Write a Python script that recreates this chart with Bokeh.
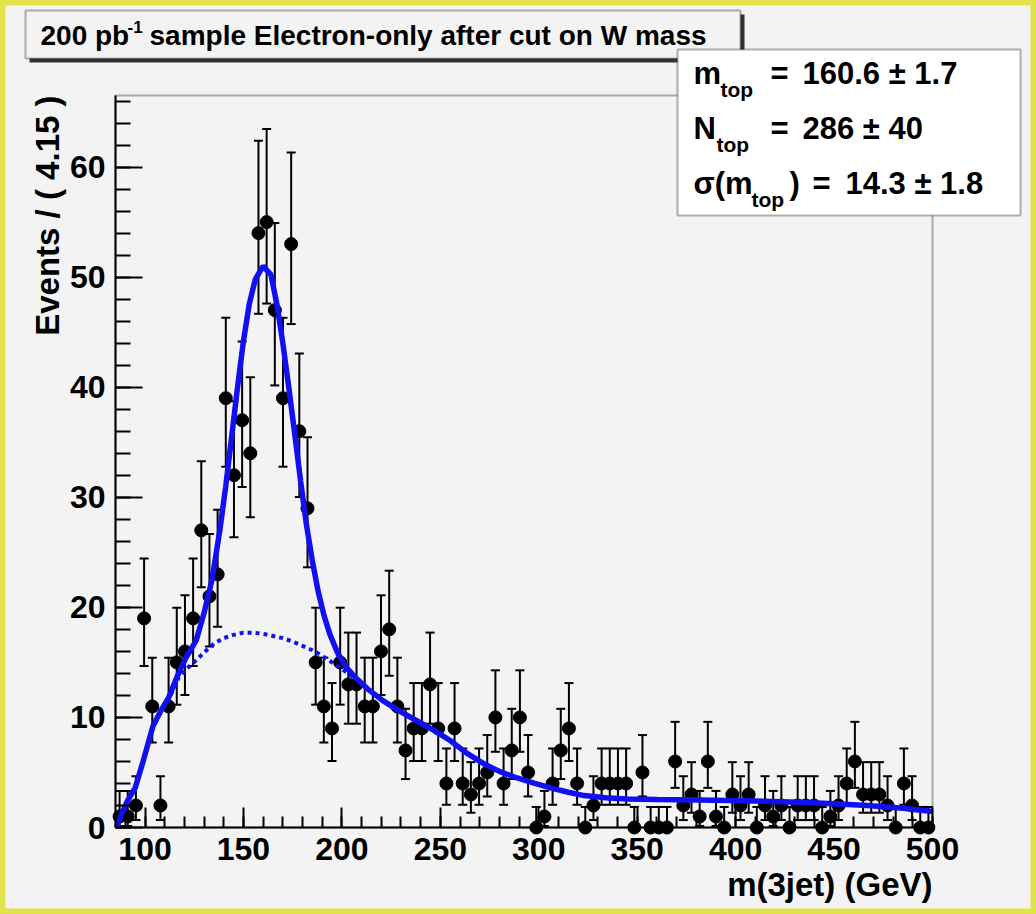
import numpy as np
from bokeh.plotting import figure
from bokeh.models import (ColumnDataSource, Whisker, TeeHead, Label, BoxAnnotation,
                          FixedTicker, LinearAxis)
from bokeh.embed import file_html
from bokeh.resources import INLINE

# ---------------- data ----------------
X_MIN, X_MAX = 85.0, 500.0
BIN_WIDTH = 4.15
Y_MAX = 66.5

counts = [1, 1, 2, 19, 11, 2, 11, 15, 16, 19,
          27, 21, 23, 39, 32, 37, 34, 54, 55, 47,
          39, 53, 36, 29, 15, 11, 9, 15, 13, 13,
          11, 11, 16, 18, 11, 7, 9, 9, 13, 9,
          4, 9, 4, 3, 4, 5, 10, 4, 7, 10,
          5, 0, 1, 4, 7, 9, 4, 0, 2, 4,
          4, 4, 4, 0, 5, 0, 0, 0, 6, 2,
          3, 1, 6, 1, 0, 3, 2, 3, 0, 2,
          1, 2, 0, 2, 2, 2, 0, 1, 2, 4,
          6, 3, 3, 3, 2, 0, 4, 2, 0, 0]

fit_total_x = [85.5, 88, 91, 95, 99, 104, 108, 112, 117, 121, 126, 130, 134, 138, 141,
               144, 147, 150, 153, 156, 160, 164, 167, 170, 173, 176, 179, 182, 185,
               188, 191, 194, 198, 202, 207, 213, 221, 230, 238, 247, 255, 263, 272,
               280, 289, 298, 306, 315, 323, 334, 345, 360, 382, 410, 433, 450, 467,
               485, 500]
fit_total_y = [0.0, 1.2, 2.4, 3.6, 6.0, 9.2, 10.6, 11.8, 14.0, 15.5, 17.0, 19.5, 22.5,
               27.0, 31.0, 35.5, 40.0, 44.2, 47.6, 49.8, 51.0, 50.2, 47.5, 44.0, 40.0,
               35.8, 31.5, 27.5, 24.2, 21.4, 19.2, 17.5, 15.8, 14.6, 13.6, 12.6, 11.5,
               10.5, 9.7, 8.8, 7.9, 6.8, 5.8, 5.1, 4.5, 4.0, 3.6, 3.2, 2.9, 2.7, 2.6,
               2.55, 2.5, 2.4, 2.3, 2.15, 2.0, 1.75, 1.45]

fit_bkg_x = [85.5, 88, 91, 95, 99, 104, 108, 112, 117, 121, 126, 130, 135, 140, 145,
             150, 155, 160, 165, 170, 175, 180, 185, 190, 195, 200, 207, 213, 221, 230,
             238, 247, 255, 263, 272, 280, 289, 298, 306, 315, 323, 334, 345, 360, 382,
             410, 433, 450, 467, 485, 500]
fit_bkg_y = [0.0, 1.2, 2.4, 3.6, 6.0, 9.1, 10.5, 11.6, 13.6, 14.4, 15.2, 15.9, 16.7,
             17.2, 17.5, 17.7, 17.7, 17.6, 17.4, 17.2, 16.9, 16.5, 16.1, 15.6, 15.0,
             14.4, 13.5, 12.6, 11.5, 10.5, 9.7, 8.8, 7.9, 6.8, 5.8, 5.1, 4.5, 4.0, 3.6,
             3.2, 2.9, 2.7, 2.6, 2.55, 2.5, 2.4, 2.3, 2.15, 2.0, 1.75, 1.45]

x_ticks = [100, 150, 200, 250, 300, 350, 400, 450, 500]
x_minor = [90, 100, 110, 120, 130, 140, 150, 160, 170, 180, 190, 200, 210, 220, 230,
           240, 250, 260, 270, 280, 290, 300, 310, 320, 330, 340, 350, 360, 370, 380,
           390, 400, 410, 420, 430, 440, 450, 460, 470, 480, 490, 500]
y_ticks = [0, 10, 20, 30, 40, 50, 60]
y_minor = [0, 2, 4, 6, 8, 10, 12, 14, 16, 18, 20, 22, 24, 26, 28, 30, 32, 34, 36, 38,
           40, 42, 44, 46, 48, 50, 52, 54, 56, 58, 60, 62, 64, 66]

title_main = "200 pb"
title_sup = "-1"
title_rest = "sample Electron-only after cut on W mass"
x_title = "m(3jet) (GeV)"
y_title = "Events / ( 4.15 )"
stats_lines = [("m", "top", "", "=", "160.6 \u00b1 1.7"),
               ("N", "top", "", "=", "286 \u00b1 40"),
               ("\u03c3(m", "top", ")", "=", "14.3 \u00b1 1.8")]

# ---------------- derived ----------------
n = np.array(counts, dtype=float)
centers = X_MIN + BIN_WIDTH * (np.arange(len(counts)) + 0.5)
upper = n + 1.0 + np.sqrt(n + 0.75)
lower = np.where(n > 0, n - np.sqrt(np.clip(n - 0.25, 0, None)), 0.0)
src = ColumnDataSource(dict(x=centers, y=n, lo=lower, hi=upper))

# ---------------- layout helpers (page pixel -> data) ----------------
FL, FR, FT, FB = 115, 932, 95, 827   # axes box edges in page pixels
PW, PH = 1036, 914


def dx(px):
    return X_MIN + (px - FL) * (X_MAX - X_MIN) / (FR - FL)


def dy(py):
    return (FB - py) * Y_MAX / (FB - FT)


FONT = "Liberation Sans"
BG = "#f3f3f3"
BLUE = "#1010f0"

p = figure(width=PW, height=PH,
           x_range=(dx(0), dx(PW)), y_range=(dy(PH), dy(0)),
           output_backend="svg", toolbar_location=None, x_axis_location=None,
           y_axis_location=None,
           min_border_left=0, min_border_right=0, min_border_top=0, min_border_bottom=0,
           background_fill_color=BG, border_fill_color=BG)
p.title.visible = False
p.grid.visible = False
# yellow page border (half of the outline lies outside the canvas)
p.outline_line_color = "#e2e24a"
p.outline_line_width = 10

xax = LinearAxis(fixed_location=0, bounds=(X_MIN, X_MAX))
yax = LinearAxis(fixed_location=X_MIN, bounds=(0, Y_MAX))
p.add_layout(xax, "below")
p.add_layout(yax, "left")

for ax, tk, mn, tin, tmin in ((xax, x_ticks, x_minor, 20, 11),
                              (yax, y_ticks, y_minor, 27, 15)):
    ax.ticker = FixedTicker(ticks=tk, minor_ticks=mn)
    ax.major_tick_in = tin
    ax.major_tick_out = 0
    ax.minor_tick_in = tmin
    ax.minor_tick_out = 0
    ax.axis_line_width = 2
    ax.major_tick_line_width = 2
    ax.minor_tick_line_width = 2
    ax.major_label_text_font = FONT
    ax.major_label_text_font_style = "bold"
    ax.major_label_text_font_size = "32px"
    ax.major_label_text_color = "black"
    ax.major_label_standoff = 10

# frame of the histogram area
p.add_layout(BoxAnnotation(left=X_MIN, right=X_MAX, bottom=0, top=Y_MAX,
                           fill_alpha=0, line_color="black", line_width=2,
                           level="underlay"))

# error bars, points, fit curves
p.add_layout(Whisker(source=src, base="x", upper="hi", lower="lo", dimension="height",
                     line_color="black", line_width=2,
                     upper_head=TeeHead(size=9, line_width=2, line_color="black"),
                     lower_head=TeeHead(size=9, line_width=2, line_color="black")))
p.scatter("x", "y", source=src, size=13, color="black")
p.line(fit_bkg_x, fit_bkg_y, line_color=BLUE, line_width=4, line_dash="4 4")
p.line(fit_total_x, fit_total_y, line_color=BLUE, line_width=5.5)

TXT = dict(text_font=FONT, text_font_style="bold", text_color="black")

# axis titles
p.add_layout(Label(x=dx(47), y=dy(FT), text=y_title, angle=np.pi / 2,
                   text_align="right", text_baseline="middle", text_font_size="33px",
                   **TXT))
p.add_layout(Label(x=dx(FR), y=dy(884), text=x_title, text_align="right",
                   text_baseline="middle", text_font_size="33px", **TXT))

# title pave with shadow
p.add_layout(BoxAnnotation(left=dx(29), right=dx(744), top=dy(14), bottom=dy(62),
                           fill_color="#333333", fill_alpha=1, line_alpha=0))
p.add_layout(BoxAnnotation(left=dx(25), right=dx(740), top=dy(10), bottom=dy(58),
                           fill_color=BG, fill_alpha=1, line_color="black", line_width=2))
tx = 40
p.add_layout(Label(x=dx(tx), y=dy(35), text=title_main, text_baseline="middle",
                   text_font_size="28px", **TXT))
p.add_layout(Label(x=dx(tx + 87), y=dy(26), text=title_sup, text_baseline="middle",
                   text_font_size="17px", **TXT))
p.add_layout(Label(x=dx(tx + 109), y=dy(35), text=title_rest, text_baseline="middle",
                   text_font_size="28px", **TXT))

# stats box
p.add_layout(BoxAnnotation(left=dx(677), right=dx(1020), top=dy(49), bottom=dy(215),
                           fill_color="white", fill_alpha=1, line_color="black",
                           line_width=2))
row_y = [73, 128, 183]
sub_x = [720, 716, 751]
close_x = [0, 0, 789]
eq_x = [770, 770, 812]
val_x = [802, 802, 845]
for (a, sub, close, eq, val), yy, sx, cx, ex, vx in zip(stats_lines, row_y, sub_x,
                                                      close_x, eq_x, val_x):
    kw = dict(text_baseline="middle", text_font_size="31px", **TXT)
    p.add_layout(Label(x=dx(693), y=dy(yy), text=a, **kw))
    p.add_layout(Label(x=dx(sx), y=dy(yy + 16), text=sub, text_baseline="middle",
                       text_font_size="21px", **TXT))
    if close:
        p.add_layout(Label(x=dx(cx), y=dy(yy), text=close, **kw))
    p.add_layout(Label(x=dx(ex), y=dy(yy), text=eq, **kw))
    p.add_layout(Label(x=dx(vx), y=dy(yy), text=val, **kw))

open("out.html", "w").write(file_html(p, INLINE))
